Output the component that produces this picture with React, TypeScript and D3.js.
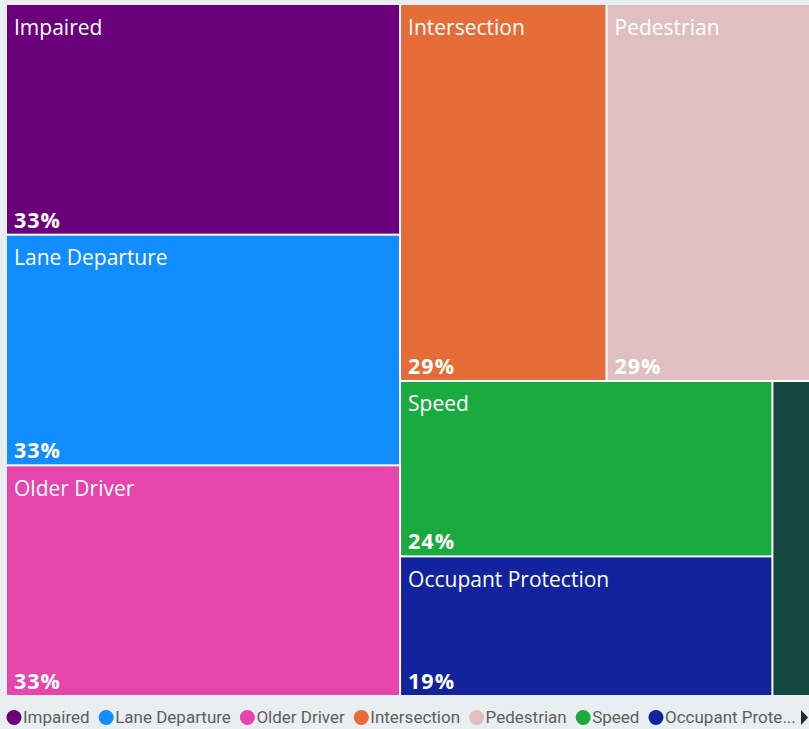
import React, { useEffect, useRef } from 'react';
import * as d3 from 'd3';

// chart data
const categories = ['Impaired', 'Lane Departure', 'Older Driver', 'Intersection', 'Pedestrian', 'Speed', 'Occupant Protection', 'Other'];
const values = [33.4, 33.4, 33.4, 28.6, 28.6, 24.0, 19.1, 4.7];
const colors = ['#6B007B', '#118DFF', '#E645AB', '#E66C37', '#DFBFBF', '#1AAB40', '#12239E', '#13463F'];
// only these fit in the legend before it scrolls
const legendCount = 7;

const width = 809;
const height = 729;
const plot = { x: 7, y: 5, w: 805, h: 690 };
const font = '"Open Sans", "Noto Sans", sans-serif';

type Leaf = { name: string; value: number; color: string };

function App() {
    const svgRef = useRef<SVGSVGElement>(null);

    useEffect(() => {
        const svg = d3.select(svgRef.current);
        svg.selectAll('*').remove();

        svg.append('rect')
            .attr('width', width).attr('height', height)
            .attr('fill', '#E9EEF1');

        const leaves: Leaf[] = categories.map((c, i) => ({ name: c, value: values[i], color: colors[i] }));
        const root = d3.hierarchy<any>({ children: leaves })
            .sum((d: any) => d.value || 0)
            .sort((a, b) => (b.value || 0) - (a.value || 0));

        d3.treemap<any>()
            .tile(d3.treemapSquarify)
            .size([plot.w, plot.h])
            .paddingInner(2)(root);

        svg.append('rect')
            .attr('x', plot.x).attr('y', plot.y)
            .attr('width', plot.w).attr('height', plot.h)
            .attr('fill', '#ffffff');

        const graph = svg.append('g').attr('transform', `translate(${plot.x}, ${plot.y})`);

        const cell = graph.selectAll('g.cell')
            .data(root.leaves())
            .enter()
            .append('g')
            .attr('class', 'cell')
            .attr('transform', (d: any) => `translate(${d.x0}, ${d.y0})`);

        cell.append('rect')
            .attr('width', (d: any) => d.x1 - d.x0)
            .attr('height', (d: any) => d.y1 - d.y0)
            .attr('fill', (d: any) => d.data.color);

        const fits = (d: any) => d.x1 - d.x0 > 60;

        cell.filter(fits).append('text')
            .attr('x', 7)
            .attr('y', 29.5)
            .attr('fill', '#ffffff')
            .style('font-family', font)
            .style('font-size', '21px')
            .text((d: any) => d.data.name);

        cell.filter(fits).append('text')
            .attr('x', 7)
            .attr('y', (d: any) => d.y1 - d.y0 - 6)
            .attr('fill', '#ffffff')
            .style('font-family', font)
            .style('font-size', '21.5px')
            .style('font-weight', 700)
            .style('letter-spacing', '1px')
            .text((d: any) => d3.format('.0f')(d.data.value) + '%');

        // legend
        const legend = svg.append('g').attr('transform', 'translate(0, 717.5)');
        const maxX = 797;
        let cx = 14;
        for (let i = 0; i < legendCount; i++) {
            legend.append('circle')
                .attr('cx', cx).attr('cy', 0).attr('r', 7.5)
                .attr('fill', colors[i]);
            const t = legend.append('text')
                .attr('x', cx + 9).attr('y', 5.8)
                .attr('fill', '#605E5C')
                .style('font-family', 'Roboto, "Open Sans", sans-serif')
                .style('font-size', '17px')
                .text(categories[i]);
            let label = categories[i];
            const node = t.node() as SVGTextElement;
            while (cx + 9 + node.getComputedTextLength() > maxX && label.length > 1) {
                label = label.slice(0, -1);
                t.text(label.trimEnd() + '...');
            }
            cx += 9 + node.getComputedTextLength() + 16.5;
        }

        // scroll arrow
        legend.append('path')
            .attr('d', d3.line()([[801, -7.5], [808, 0], [801, 7.5]]) + 'Z')
            .attr('fill', '#252423');
    }, []);

    return (
        <div style={{ position: 'absolute', left: 0, top: 0 }}>
            <svg ref={svgRef} width={width} height={height} style={{ display: 'block' }}></svg>
        </div>
    );
}

export default App;
